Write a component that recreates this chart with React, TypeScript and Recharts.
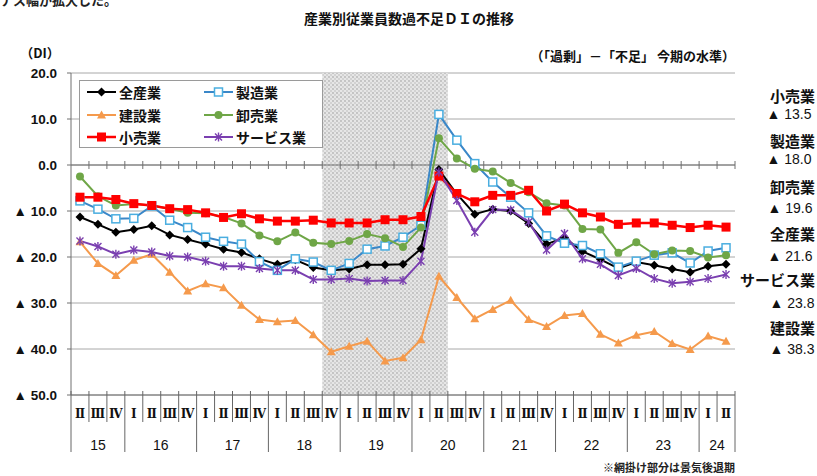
import React from "react";
import { CartesianGrid, Line, LineChart, ReferenceArea, ReferenceLine, XAxis, YAxis } from "recharts";

// quarters 2015 II .. 2024 II
const years = [
  "15", "15", "15",
  "16", "16", "16", "16",
  "17", "17", "17", "17",
  "18", "18", "18", "18",
  "19", "19", "19", "19",
  "20", "20", "20", "20",
  "21", "21", "21", "21",
  "22", "22", "22", "22",
  "23", "23", "23", "23",
  "24", "24",
];
const quarters = [
  "Ⅱ", "Ⅲ", "Ⅳ",
  "Ⅰ", "Ⅱ", "Ⅲ", "Ⅳ",
  "Ⅰ", "Ⅱ", "Ⅲ", "Ⅳ",
  "Ⅰ", "Ⅱ", "Ⅲ", "Ⅳ",
  "Ⅰ", "Ⅱ", "Ⅲ", "Ⅳ",
  "Ⅰ", "Ⅱ", "Ⅲ", "Ⅳ",
  "Ⅰ", "Ⅱ", "Ⅲ", "Ⅳ",
  "Ⅰ", "Ⅱ", "Ⅲ", "Ⅳ",
  "Ⅰ", "Ⅱ", "Ⅲ", "Ⅳ",
  "Ⅰ", "Ⅱ",
];

const allIndustries = [
  -11.3, -12.9, -14.6, -14.0, -13.2, -15.2, -16.2, -17.2, -18.3, -19.0, -20.4, -21.6, -20.6,
  -22.3, -22.9, -22.6, -21.7, -21.7, -21.6, -18.2, -1.0, -6.3, -10.7, -9.6, -10.0, -12.7,
  -17.2, -15.8, -18.8, -20.5, -22.5, -21.1, -21.8, -22.6, -23.3, -22.0, -21.6,
];
const manufacturing = [
  -7.8, -9.6, -11.7, -11.6, -8.9, -12.0, -13.6, -15.7, -16.6, -17.2, -21.0, -22.9, -20.4,
  -21.1, -22.9, -21.4, -18.3, -17.6, -15.7, -13.1, 11.0, 5.4, 0.3, -3.7, -7.0, -10.4,
  -15.4, -17.0, -17.5, -19.3, -22.2, -20.9, -19.6, -19.1, -21.3, -18.7, -18.0,
];
const construction = [
  -16.7, -21.4, -24.0, -20.7, -19.4, -23.3, -27.4, -25.8, -26.7, -30.5, -33.6, -34.1, -33.8,
  -36.9, -40.6, -39.4, -38.3, -42.6, -41.9, -38.0, -24.2, -28.8, -33.4, -31.4, -29.4, -33.6,
  -35.1, -32.7, -32.3, -36.8, -38.7, -37.0, -36.2, -38.8, -40.1, -37.2, -38.3,
];
const wholesale = [
  -2.5, -6.8, -8.8, -8.5, -8.8, -9.5, -10.4, -10.5, -11.3, -12.7, -15.3, -16.6, -14.7,
  -16.9, -17.2, -16.5, -15.0, -15.9, -17.8, -13.6, 5.8, 1.4, -0.8, -1.4, -3.9, -5.9,
  -8.3, -8.8, -13.9, -14.0, -19.1, -16.8, -19.4, -18.6, -18.7, -20.1, -19.6,
];
const retail = [
  -7.0, -7.0, -7.5, -8.4, -8.8, -9.5, -9.7, -10.4, -11.4, -10.6, -11.7, -12.2, -12.2,
  -12.0, -12.6, -12.6, -12.6, -11.9, -11.9, -11.2, -2.4, -6.2, -8.0, -6.6, -6.6, -5.5,
  -10.0, -8.5, -10.4, -11.3, -12.9, -12.6, -12.6, -13.1, -13.6, -13.1, -13.5,
];
const services = [
  -16.5, -17.7, -19.4, -18.5, -18.9, -19.8, -20.0, -20.9, -22.0, -22.0, -22.5, -22.9, -22.9,
  -24.9, -24.9, -24.7, -25.2, -25.1, -25.1, -20.9, -1.5, -7.7, -14.6, -9.7, -9.8, -12.4,
  -18.5, -14.9, -20.4, -21.6, -24.0, -22.5, -24.7, -25.7, -25.4, -24.7, -23.8,
];

const yTicks = [20, 10, 0, -10, -20, -30, -40, -50];
const recession = ["18Ⅳ", "20Ⅱ"];
// order of the labels on the right side
const sideOrder = ["retail", "mfg", "whole", "all", "svc", "cons"];

const W = 817;
const H = 476;
const M = { top: 73, right: 82, bottom: 21, left: 0 };
const Y_AXIS_W = 71;
const X_AXIS_H = 60;
const PLOT_W = W - M.left - M.right - Y_AXIS_W;
const BW = PLOT_W / quarters.length;

const JP = "'Noto Sans CJK JP', sans-serif";
const NUM = "'Liberation Sans', Arial, 'Noto Sans CJK JP', sans-serif";

const data = quarters.map((q, i) => ({
  key: years[i] + q,
  all: allIndustries[i],
  mfg: manufacturing[i],
  cons: construction[i],
  whole: wholesale[i],
  retail: retail[i],
  svc: services[i],
}));

type Marker = "diamond" | "hollowSquare" | "triangle" | "circle" | "square" | "star";

const series: { key: string; name: string; color: string; width: number; marker: Marker; mColor: string }[] = [
  { key: "all", name: "全産業", color: "#000000", width: 2, marker: "diamond", mColor: "#000000" },
  { key: "mfg", name: "製造業", color: "#3a87c8", width: 2, marker: "hollowSquare", mColor: "#4aaee0" },
  { key: "cons", name: "建設業", color: "#f59a4c", width: 2, marker: "triangle", mColor: "#f59a4c" },
  { key: "whole", name: "卸売業", color: "#6fa647", width: 2, marker: "circle", mColor: "#6fa647" },
  { key: "retail", name: "小売業", color: "#ff0000", width: 2.5, marker: "square", mColor: "#ff0000" },
  { key: "svc", name: "サービス業", color: "#7a3fb0", width: 2, marker: "star", mColor: "#7a3fb0" },
];

function MarkerShape({ type, cx, cy, color }: { type: Marker; cx: number; cy: number; color: string }) {
  if (cx == null || cy == null) return null;
  switch (type) {
    case "diamond":
      return <polygon points={`${cx},${cy - 4.5} ${cx + 4.5},${cy} ${cx},${cy + 4.5} ${cx - 4.5},${cy}`} fill={color} />;
    case "hollowSquare":
      return <rect x={cx - 4} y={cy - 4} width={8} height={8} fill="#fff" stroke={color} strokeWidth={1.5} />;
    case "triangle":
      return <polygon points={`${cx},${cy - 4.5} ${cx + 4.5},${cy + 3.5} ${cx - 4.5},${cy + 3.5}`} fill={color} />;
    case "circle":
      return <circle cx={cx} cy={cy} r={4} fill={color} />;
    case "square":
      return <rect x={cx - 4.5} y={cy - 4.5} width={9} height={9} fill={color} />;
    case "star":
      return (
        <g stroke={color} strokeWidth={1.4}>
          <line x1={cx - 3.5} y1={cy - 3.5} x2={cx + 3.5} y2={cy + 3.5} />
          <line x1={cx - 3.5} y1={cy + 3.5} x2={cx + 3.5} y2={cy - 3.5} />
          <line x1={cx} y1={cy - 4.5} x2={cx} y2={cy + 4.5} />
        </g>
      );
  }
  return null;
}

function yLabel(v: number) {
  if (v > 0) return v.toFixed(1);
  if (v === 0) return "0.0";
  return `▲ ${Math.abs(v).toFixed(1)}`;
}

function XTick(props: any) {
  const { x, y, payload } = props;
  const i = data.findIndex((d) => d.key === payload.value);
  if (i < 0) return null;
  const left = x - BW / 2;
  const yr = years[i];
  const first = i === 0 || years[i - 1] !== yr;
  const last = i === quarters.length - 1;
  let span = 0;
  if (first) for (let j = i; j < years.length && years[j] === yr; j++) span++;
  return (
    <g>
      <line x1={left} x2={left} y1={y - 4} y2={first ? y + 57 : y + 27} stroke="#666" />
      {last && <line x1={left + BW} x2={left + BW} y1={y - 4} y2={y + 57} stroke="#666" />}
      <text x={x} y={y + 19} textAnchor="middle" dominantBaseline="central"
        style={{ fontFamily: "'DejaVu Serif', serif", fontSize: 12, fontWeight: 700 }} fill="#111">
        {quarters[i]}
      </text>
      {first && (
        <text x={left + (span * BW) / 2} y={y + 50} textAnchor="middle" dominantBaseline="central"
          style={{ fontFamily: NUM, fontSize: 14 }} fill="#111">
          {yr}
        </text>
      )}
    </g>
  );
}

function ZeroLine(p: any) {
  const { x1, x2, y1 } = p;
  const n = quarters.length;
  const bw = (x2 - x1) / n;
  return (
    <g>
      <line x1={x1} x2={x2} y1={y1} y2={y1} stroke="#707070" strokeWidth={1.2} />
      {quarters.map((_, i) => (
        <line key={i} x1={x1 + (i + 1) * bw} x2={x1 + (i + 1) * bw} y1={y1 - 4} y2={y1 + 4} stroke="#707070" />
      ))}
    </g>
  );
}

function LegendBox({ x, y }: { x: number; y: number }) {
  const cols = [8, 125];
  const rows = [12, 35, 57];
  return (
    <g transform={`translate(${x},${y})`}>
      <rect x={0.5} y={0.5} width={243} height={67} fill="#fff" stroke="#9a9a9a" />
      {series.map((s, k) => {
        const cx = cols[k % 2];
        const cy = rows[Math.floor(k / 2)];
        return (
          <g key={s.key}>
            <line x1={cx} x2={cx + 29} y1={cy} y2={cy} stroke={s.color} strokeWidth={s.width} />
            <MarkerShape type={s.marker} cx={cx + 14.5} cy={cy} color={s.mColor} />
            <text x={cx + 32} y={cy} dominantBaseline="central"
              style={{ fontFamily: JP, fontSize: 14, fontWeight: 700 }} fill="#111">
              {s.name}
            </text>
          </g>
        );
      })}
    </g>
  );
}

const sideY: Record<string, [number, number, number]> = {
  retail: [95, 114, 789],
  mfg: [140, 159, 789],
  whole: [186, 208, 790],
  all: [233, 256, 790],
  svc: [279, 303, 792],
  cons: [327, 349, 792],
};

export default function App() {
  return (
    <div style={{ position: "absolute", left: 0, top: 0, width: W, height: H, background: "#fff", overflow: "hidden" }}>
      <LineChart width={W} height={H} data={data} margin={M}>
        <defs>
          <pattern id="recess" width="4" height="4" patternUnits="userSpaceOnUse">
            <rect width="4" height="4" fill="#e6e6e6" />
            <circle cx="1" cy="1" r="0.9" fill="#b5b5b5" />
            <circle cx="3" cy="3" r="0.9" fill="#c9c9c9" />
          </pattern>
        </defs>
        <CartesianGrid vertical={false} stroke="#a8a8a8" />
        <XAxis dataKey="key" scale="band" interval={0} height={X_AXIS_H} tickSize={0} tickMargin={0}
          tickLine={false} tick={<XTick />} axisLine={{ stroke: "#707070" }} />
        <YAxis width={Y_AXIS_W} domain={[-50, 20]} ticks={yTicks} interval={0} tickFormatter={yLabel}
          tickSize={4} tickMargin={10} axisLine={{ stroke: "#707070" }} tickLine={{ stroke: "#707070" }}
          tick={{ fontFamily: NUM, fontSize: 13.5, fontWeight: 700, fill: "#111" }} />
        <ReferenceArea x1={recession[0]} x2={recession[1]} fill="url(#recess)" fillOpacity={1} stroke="none" />
        <ReferenceLine y={0} shape={<ZeroLine />} />
        {series.map((s) => (
          <Line key={s.key} dataKey={s.key} name={s.name} stroke={s.color} strokeWidth={s.width}
            isAnimationActive={false} activeDot={false}
            dot={(p: any) => <MarkerShape key={`${s.key}-${p.index}`} type={s.marker} cx={p.cx} cy={p.cy} color={s.mColor} />} />
        ))}
      </LineChart>
      <svg width={W} height={H} style={{ position: "absolute", left: 0, top: 0, pointerEvents: "none" }}>
        <LegendBox x={79} y={80} />
        <text x={0} y={-1} dominantBaseline="central" style={{ fontFamily: JP, fontSize: 13, fontWeight: 700 }} fill="#222">
          ナス幅が拡大した。
        </text>
        <text x={409} y={18} textAnchor="middle" dominantBaseline="central"
          style={{ fontFamily: JP, fontSize: 14, fontWeight: 700 }} fill="#111">
          産業別従業員数過不足ＤＩの推移
        </text>
        <text x={40} y={52} textAnchor="middle" dominantBaseline="central"
          style={{ fontFamily: JP, fontSize: 13, fontWeight: 700 }} fill="#111">
          （DI）
        </text>
        <text x={735} y={55} textAnchor="end" dominantBaseline="central"
          style={{ fontFamily: JP, fontSize: 13, fontWeight: 700 }} fill="#111">
          （「過剰」－「不足」 今期の水準）
        </text>
        {sideOrder.map((k) => {
          const s = series.find((x) => x.key === k)!;
          const vals = data.map((d) => (d as any)[k] as number);
          const lastV = vals[vals.length - 1];
          const [ny, vy, vx] = sideY[k];
          return (
            <g key={k}>
              <text x={815} y={ny} textAnchor="end" dominantBaseline="central"
                style={{ fontFamily: JP, fontSize: 15, fontWeight: 700 }} fill="#111">
                {s.name}
              </text>
              <text x={vx} y={vy} textAnchor="middle" dominantBaseline="central"
                style={{ fontFamily: NUM, fontSize: 14 }} fill="#111">
                {`▲ ${Math.abs(lastV).toFixed(1)}`}
              </text>
            </g>
          );
        })}
        <text x={735} y={467} textAnchor="end" dominantBaseline="central"
          style={{ fontFamily: JP, fontSize: 11, fontWeight: 700 }} fill="#222">
          ※網掛け部分は景気後退期
        </text>
      </svg>
    </div>
  );
}
